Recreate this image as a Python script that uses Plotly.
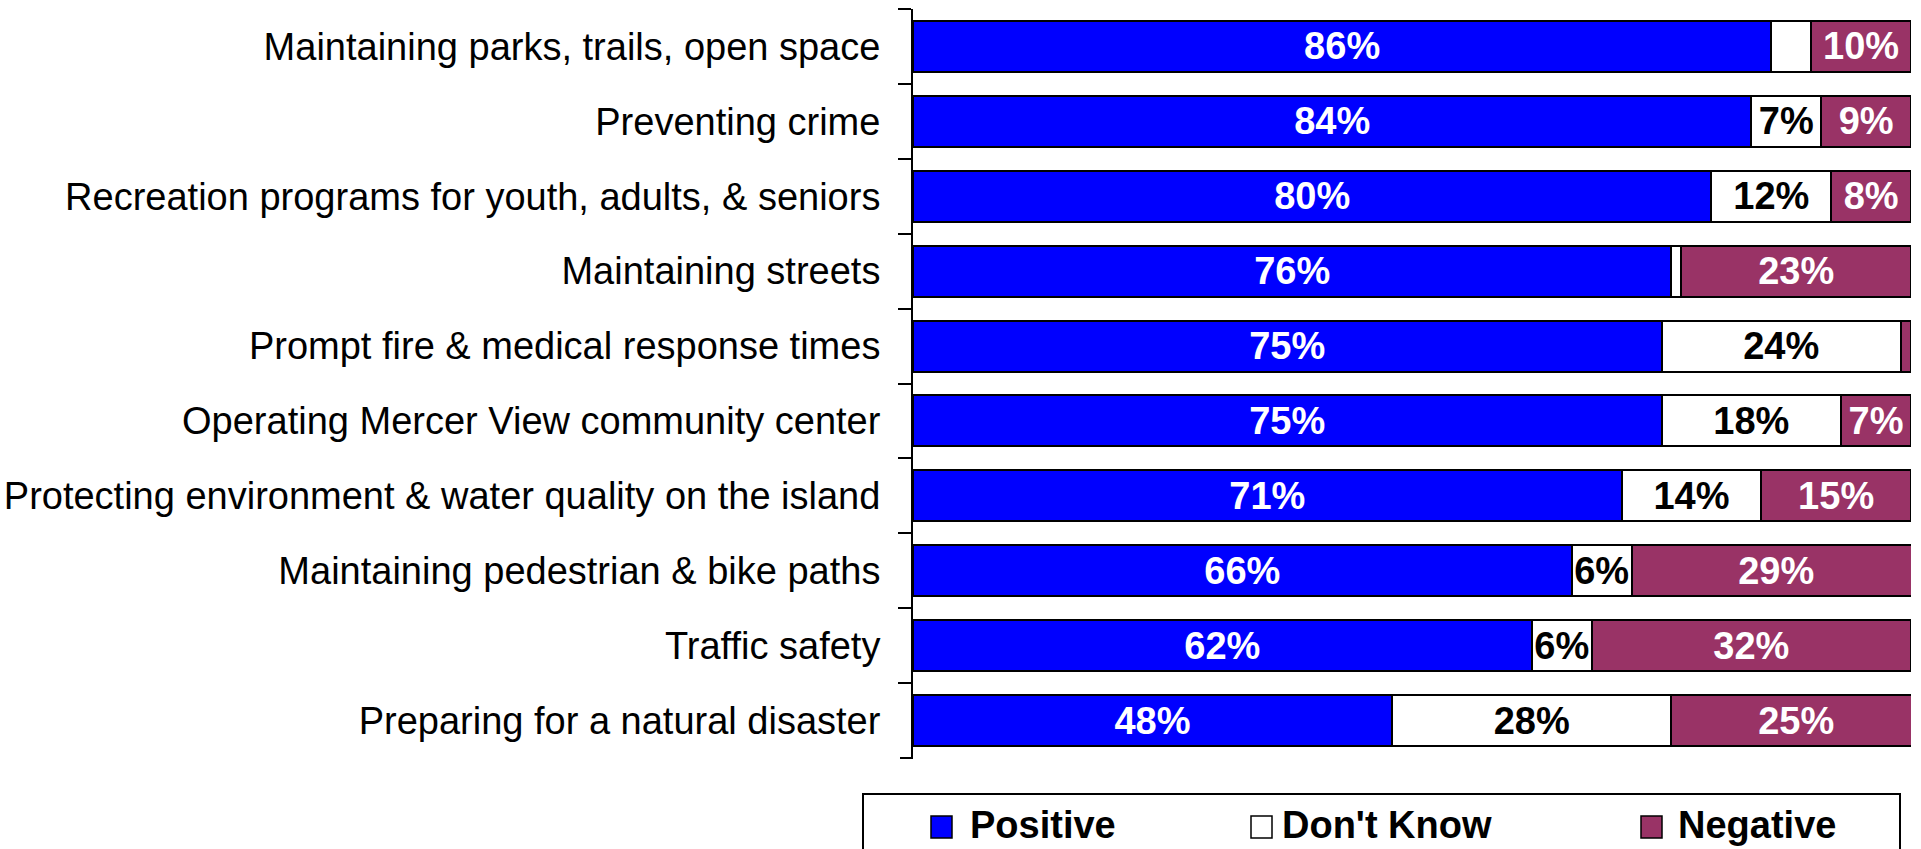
import plotly.graph_objects as go

# Survey items, listed top to bottom
categories = [
    "Maintaining parks, trails, open space",
    "Preventing crime",
    "Recreation programs for youth, adults, & seniors",
    "Maintaining streets",
    "Prompt fire & medical response times",
    "Operating Mercer View community center",
    "Protecting environment & water quality on the island",
    "Maintaining pedestrian & bike paths",
    "Traffic safety",
    "Preparing for a natural disaster",
]

positive = [86, 84, 80, 76, 75, 75, 71, 66, 62, 48]
dont_know = [4, 7, 12, 1, 24, 18, 14, 6, 6, 28]
negative = [10, 9, 8, 23, 1, 7, 15, 29, 32, 25]

series_names = ["Positive", "Don't Know", "Negative"]
series_values = [positive, dont_know, negative]
series_colors = ["#0000FF", "#FFFFFF", "#993366"]
label_colors = ["white", "black", "white"]

W, H = 1921, 849
ML, MR, MT, MB = 913, 10, 9, 91
PW, PH = W - ML - MR, H - MT - MB
TICKLEN = 13


def px_x(px):
    return (px - ML) / PW


def px_y(py):
    return (H - MB - py) / PH


fig = go.Figure()
for name, vals, color, tcolor in zip(series_names, series_values, series_colors, label_colors):
    fig.add_trace(go.Bar(
        name=name,
        y=categories,
        x=vals,
        orientation="h",
        marker=dict(color=color, line=dict(color="black", width=2)),
        text=[f"{v}%" if v >= 5 else "" for v in vals],
        textposition="inside",
        insidetextanchor="middle",
        constraintext="none",
        textangle=0,
        textfont=dict(family="Liberation Sans, Arial, sans-serif", size=38,
                      color=tcolor, weight="bold"),
        showlegend=False,
        hoverinfo="skip",
    ))

# Closing tick at the lower end of the category axis
fig.add_shape(type="line", xref="paper", yref="paper",
              x0=px_x(ML - TICKLEN), x1=0, y0=0, y1=0,
              line=dict(color="black", width=2))

# Legend drawn as a framed box with swatches and labels
legend_box = dict(x0=863, x1=1900, y0=794, y1=880)
fig.add_shape(type="rect", xref="paper", yref="paper",
              x0=px_x(legend_box["x0"]), x1=px_x(legend_box["x1"]),
              y0=px_y(legend_box["y1"]), y1=px_y(legend_box["y0"]),
              line=dict(color="black", width=2), fillcolor="white", layer="above")
swatch_left = [931, 1251, 1641]
text_left = [968, 1280, 1676]
sw, sy0, sy1 = 21, 816, 838
for name, color, sx, tx in zip(series_names, series_colors, swatch_left, text_left):
    fig.add_shape(type="rect", xref="paper", yref="paper",
                  x0=px_x(sx), x1=px_x(sx + sw), y0=px_y(sy1), y1=px_y(sy0),
                  line=dict(color="black", width=1.5), fillcolor=color, layer="above")
    fig.add_annotation(xref="paper", yref="paper", x=px_x(tx), y=px_y(825),
                       xanchor="left", yanchor="middle", showarrow=False, text=name,
                       font=dict(family="Liberation Sans, Arial, sans-serif",
                                 size=38, color="black", weight="bold"))

fig.update_layout(
    template="none",
    width=W, height=H,
    margin=dict(l=ML, r=MR, t=MT, b=MB, autoexpand=False),
    barmode="stack",
    bargap=0.32,
    paper_bgcolor="white",
    plot_bgcolor="white",
    xaxis=dict(range=[0, 100], visible=False, fixedrange=True),
    yaxis=dict(
        categoryorder="array",
        categoryarray=categories,
        range=[9.5, -0.5],
        showline=True, linecolor="black", linewidth=2,
        ticks="outside", ticklen=TICKLEN, tickwidth=2, tickcolor="black",
        tickson="boundaries",
        showgrid=False, zeroline=False,
        ticklabelstandoff=23,
        automargin=False,
        tickfont=dict(family="Liberation Sans, Arial, sans-serif", size=38, color="black"),
    ),
)

fig.write_html("out.html")
